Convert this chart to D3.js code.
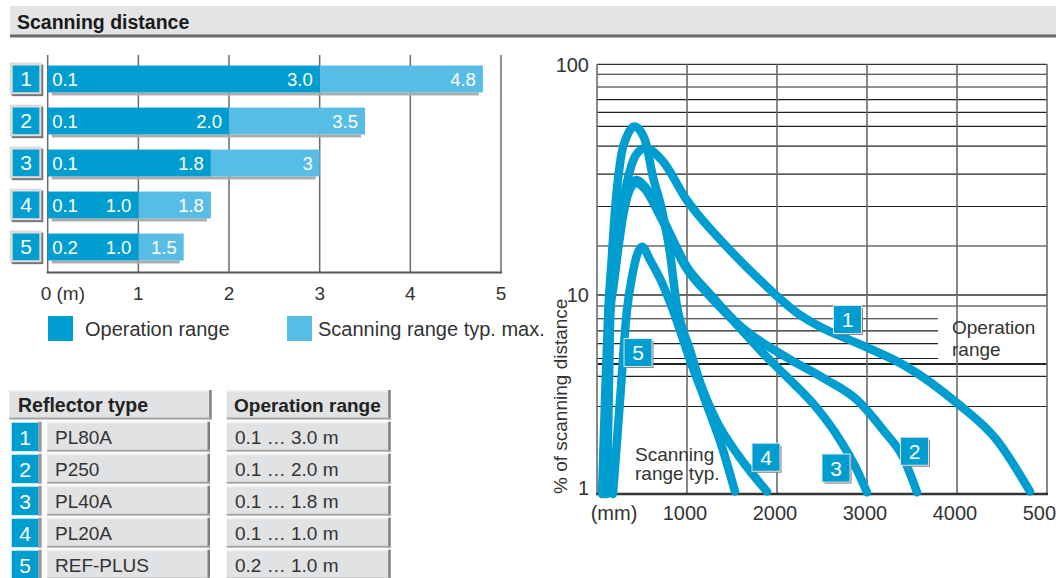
<!DOCTYPE html>
<html>
<head>
<meta charset="utf-8">
<script src="https://cdn.jsdelivr.net/npm/d3@7"></script>
<style>
  body { margin: 0; background: #fff; }
  text { font-family: "Liberation Sans", Arial, sans-serif; }
</style>
</head>
<body>
<div id="chart"></div>
<script>
// ---- bar chart data (m)
let ids = [1, 2, 3, 4, 5]
let opStart = [0.1, 0.1, 0.1, 0.1, 0.2]
let opEnd = [3.0, 2.0, 1.8, 1.0, 1.0]
let scanMax = [4.8, 3.5, 3, 1.8, 1.5]
let opStartLabels = ["0.1", "0.1", "0.1", "0.1", "0.2"]
let opEndLabels = ["3.0", "2.0", "1.8", "1.0", "1.0"]
let scanLabels = ["4.8", "3.5", "3", "1.8", "1.5"]
let barTicks = [0, 1, 2, 3, 4, 5]
let barTickLabels = ["0 (m)", "1", "2", "3", "4", "5"]

// ---- table
let reflectors = ["PL80A", "P250", "PL40A", "PL20A", "REF-PLUS"]
let opRanges = ["0.1 … 3.0 m", "0.1 … 2.0 m", "0.1 … 1.8 m", "0.1 … 1.0 m", "0.2 … 1.0 m"]

// ---- curves: distance (mm) / % of scanning distance
let c1Dist = [78, 111, 144, 181, 237, 292, 348, 422, 533, 719, 997, 1441, 1811, 2256, 2478, 2886, 3441, 3997, 4441, 4811]
let c1Pct  = [1, 2.97, 8.4, 12, 17.9, 25.8, 32.6, 39.8, 43.4, 38.5, 25.8, 16.2, 11.6, 7.94, 6.93, 5.74, 4.36, 2.87, 1.87, 1.03]
let c2Dist = [100, 122, 144, 181, 237, 292, 348, 441, 533, 700, 997, 1256, 1556, 1811, 2144, 2511, 2889, 3178, 3400, 3556]
let c2Pct  = [1, 2.97, 8.4, 11.3, 16.8, 23.3, 28.5, 31.5, 29.5, 22.6, 13.3, 10.1, 7.23, 5.87, 4.75, 3.83, 2.97, 2.1, 1.53, 1.02]
let c3Dist = [110, 130, 150, 185, 240, 295, 350, 433, 533, 700, 990, 1240, 1540, 1811, 2089, 2444, 2700, 2878, 3000]
let c3Pct  = [1, 2.97, 8.4, 11, 16.3, 22.6, 27.7, 30.6, 28.8, 22, 13.1, 10, 7.2, 5.29, 3.96, 2.7, 1.87, 1.35, 1.02]
let c4Dist = [56, 89, 126, 163, 200, 237, 274, 330, 414, 533, 622, 722, 811, 878, 1033, 1156, 1322, 1567, 1889]
let c4Pct  = [1, 2.97, 8.4, 14.2, 23.3, 32.6, 41.3, 48.6, 53.7, 47, 32.5, 23.3, 15.2, 9.4, 5.3, 3.53, 2.36, 1.57, 1.03]
let c5Dist = [178, 256, 333, 389, 500, 589, 722, 844, 1033, 1200, 1389, 1533]
let c5Pct  = [1, 2.97, 8.4, 12, 16.2, 14.2, 11.3, 8.4, 4.71, 2.97, 1.72, 1.03]

// curve number labels (mm, %)
let labelDist = [2783, 3528, 2656, 1878, 456]
let labelPct = [7.53, 1.64, 1.35, 1.53, 5.14]

let xTicks = [0, 1000, 2000, 3000, 4000, 5000]
let xTickLabels = ["(mm)", "1000", "2000", "3000", "4000", "5000"]
let yTicks = [1, 10, 100]
let yGrid = [90.5, 79.7, 70.3, 61.9, 53.8, 44.2, 33.4, 24.2, 16.3, 8.8, 4.5, 3.9, 2.75]
let yGridShort = [7.6, 6.6, 5.7, 4.8]

let width = 1056, height = 578
let blue = '#009dd0', lightBlue = '#58bde5'

let svg = d3.select('#chart')
  .append('svg')
    .attr('width', width)
    .attr('height', height)

// header band
svg.append('rect').attr('x', 10).attr('y', 6).attr('width', width - 10).attr('height', 29).attr('fill', '#e3e4e6')
svg.append('rect').attr('x', 10).attr('y', 34.5).attr('width', width - 10).attr('height', 3).attr('fill', '#6a6a6a')
svg.append('text')
  .attr('x', 17).attr('y', 29)
  .attr('font-size', 19.5).attr('font-weight', 'bold').attr('fill', '#1a1a1a')
  .text('Scanning distance')

// little number button: shadow, frame, blue square, digit
function numBox(g, x0, y0, size, n, frame) {
  if (frame) {
    g.append('rect').attr('x', x0 - 1).attr('y', y0 - 1).attr('width', size + 5).attr('height', size + 5).attr('fill', '#777')
    g.append('rect').attr('x', x0 - 3).attr('y', y0 - 3).attr('width', size + 5).attr('height', size + 5).attr('fill', '#dcdcdc')
  } else {
    g.append('rect').attr('x', x0 + 2).attr('y', y0 + 2).attr('width', size).attr('height', size).attr('fill', '#808080')
    g.append('rect').attr('x', x0 - 1).attr('y', y0 - 1).attr('width', size + 2).attr('height', size + 2).attr('fill', '#e4e4e4')
  }
  g.append('rect').attr('x', x0).attr('y', y0).attr('width', size).attr('height', size).attr('fill', blue)
  g.append('text')
    .attr('x', x0 + size / 2).attr('y', y0 + size / 2)
    .attr('dy', '0.36em').attr('text-anchor', 'middle')
    .attr('font-size', 21).attr('fill', '#fff')
    .text(n)
}

// ---------------- bar chart
let x = d3.scaleLinear().domain([0, 5]).range([47.7, 501])
let yb = d3.scaleBand().domain(ids).range([58, 268]).paddingInner(0.36).paddingOuter(0.18)

let bars = svg.append('g')

bars.selectAll('.vgrid')
  .data(barTicks)
  .enter()
  .append('line')
    .attr('x1', d => x(d)).attr('x2', d => x(d))
    .attr('y1', 55).attr('y2', 272)
    .attr('stroke', '#6a6a6a').attr('stroke-width', 1.5)
bars.append('line')
  .attr('x1', x(0) - 1).attr('x2', x(5) + 1).attr('y1', 272.5).attr('y2', 272.5)
  .attr('stroke', '#555').attr('stroke-width', 2)

bars.selectAll('.tick')
  .data(barTicks)
  .enter()
  .append('text')
    .attr('x', d => x(d))
    .attr('dx', (d, i) => i ? 0 : -7)
    .attr('y', 300)
    .attr('text-anchor', (d, i) => i ? 'middle' : 'start')
    .attr('font-size', 19).attr('fill', '#333')
    .text((d, i) => barTickLabels[i])

// shadow under each bar
bars.selectAll('.shadow')
  .data(ids)
  .enter()
  .append('rect')
    .attr('x', x(0) + 4)
    .attr('y', d => yb(d) + yb.bandwidth())
    .attr('width', (d, i) => x(scanMax[i]) - x(0) - 8)
    .attr('height', 3)
    .attr('fill', '#ababab')

bars.selectAll('.scan')
  .data(ids)
  .enter()
  .append('rect')
    .attr('x', (d, i) => x(opEnd[i]))
    .attr('y', d => yb(d))
    .attr('width', (d, i) => x(scanMax[i]) - x(opEnd[i]))
    .attr('height', yb.bandwidth())
    .attr('fill', lightBlue)

bars.selectAll('.op')
  .data(ids)
  .enter()
  .append('rect')
    .attr('x', x(0))
    .attr('y', d => yb(d))
    .attr('width', (d, i) => x(opEnd[i]) - x(0))
    .attr('height', yb.bandwidth())
    .attr('fill', blue)

let mid = d => yb(d) + yb.bandwidth() / 2
bars.selectAll('.lStart')
  .data(ids).enter().append('text')
    .attr('x', x(0) + 4.5).attr('y', mid).attr('dy', '0.36em')
    .attr('font-size', 18.5).attr('fill', '#fff')
    .text((d, i) => opStartLabels[i])
bars.selectAll('.lEnd')
  .data(ids).enter().append('text')
    .attr('x', (d, i) => x(opEnd[i]) - 7).attr('y', mid).attr('dy', '0.36em')
    .attr('text-anchor', 'end')
    .attr('font-size', 18.5).attr('fill', '#fff')
    .text((d, i) => opEndLabels[i])
bars.selectAll('.lScan')
  .data(ids).enter().append('text')
    .attr('x', (d, i) => x(scanMax[i]) - 7).attr('y', mid).attr('dy', '0.36em')
    .attr('text-anchor', 'end')
    .attr('font-size', 18.5).attr('fill', '#fff')
    .text((d, i) => scanLabels[i])

ids.forEach(d => numBox(bars, 12.7, yb(d), 26.6, d, true))

// legend
let legend = svg.append('g')
legend.append('rect').attr('x', 48).attr('y', 316).attr('width', 25).attr('height', 25).attr('fill', blue)
legend.append('text').attr('x', 85).attr('y', 335.5).attr('font-size', 20).attr('fill', '#333').text('Operation range')
legend.append('rect').attr('x', 287).attr('y', 316).attr('width', 25).attr('height', 25).attr('fill', lightBlue)
legend.append('text').attr('x', 318).attr('y', 335.5).attr('font-size', 20).attr('fill', '#333').text('Scanning range typ. max.')

// ---------------- table
let table = svg.append('g')
function cell(x0, y0, w, h) {
  table.append('rect').attr('x', x0).attr('y', y0).attr('width', w).attr('height', h).attr('fill', '#e1e2e4')
  table.append('rect').attr('x', x0).attr('y', y0).attr('width', w).attr('height', 1.5).attr('fill', '#f4f4f4')
  table.append('rect').attr('x', x0 + w - 2.5).attr('y', y0).attr('width', 2.5).attr('height', h).attr('fill', '#808080')
  table.append('rect').attr('x', x0).attr('y', y0 + h - 2).attr('width', w).attr('height', 2).attr('fill', '#a5a5a5')
}
cell(9.3, 390, 202.4, 29.5)
cell(226.7, 390, 164, 29.5)
table.append('text').attr('x', 18).attr('y', 412).attr('font-size', 19.5).attr('font-weight', 'bold').attr('fill', '#222').text('Reflector type')
table.append('text').attr('x', 234).attr('y', 412).attr('font-size', 19).attr('font-weight', 'bold').attr('fill', '#222').text('Operation range')

let rowY = d3.scaleBand().domain(ids).range([421.7, 581.7])
ids.forEach((d, i) => {
  let y0 = rowY(d)
  cell(47.3, y0, 162.7, 30)
  cell(226.7, y0, 164, 30)
  table.append('rect').attr('x', 38.3).attr('y', y0).attr('width', 3.4).attr('height', 30).attr('fill', '#9a9a9a')
  table.append('rect').attr('x', 11.7).attr('y', y0 + 1).attr('width', 26.6).attr('height', 28.5).attr('fill', blue)
  table.append('text').attr('x', 25).attr('y', y0 + 15.5).attr('dy', '0.36em').attr('text-anchor', 'middle')
    .attr('font-size', 21).attr('fill', '#fff').text(d)
  table.append('text').attr('x', 55).attr('y', y0 + 22).attr('font-size', 19).attr('fill', '#333').text(reflectors[i])
  table.append('text').attr('x', 235).attr('y', y0 + 22).attr('font-size', 19).attr('fill', '#333').text(opRanges[i])
})

// ---------------- curve chart
let xc = d3.scaleLinear().domain([0, 5000]).range([597, 1047])
let yc = d3.scaleLog().domain([1, 10, 100]).range([494, 295, 64.3])

let cg = svg.append('g')

cg.selectAll('.hgrid')
  .data(yGrid)
  .enter()
  .append('line')
    .attr('x1', xc(0)).attr('x2', xc(5000))
    .attr('y1', d => yc(d)).attr('y2', d => yc(d))
    .attr('stroke', '#222').attr('stroke-width', d => d === 4.5 ? 1.8 : 1.1)
cg.selectAll('.hgridShort')
  .data(yGridShort)
  .enter()
  .append('line')
    .attr('x1', xc(0)).attr('x2', 938)
    .attr('y1', d => yc(d)).attr('y2', d => yc(d))
    .attr('stroke', '#222').attr('stroke-width', 1.1)
cg.selectAll('.hmajor')
  .data([10, 100])
  .enter()
  .append('line')
    .attr('x1', xc(0)).attr('x2', xc(5000))
    .attr('y1', d => yc(d)).attr('y2', d => yc(d))
    .attr('stroke', '#333').attr('stroke-width', 1.3)
cg.selectAll('.vgrid')
  .data(xTicks)
  .enter()
  .append('line')
    .attr('x1', d => xc(d)).attr('x2', d => xc(d))
    .attr('y1', yc(100)).attr('y2', yc(1))
    .attr('stroke', '#6a6a6a').attr('stroke-width', 1.6)
cg.append('line')
  .attr('x1', xc(0) - 1).attr('x2', xc(5000) + 1)
  .attr('y1', yc(1)).attr('y2', yc(1))
  .attr('stroke', '#333').attr('stroke-width', 2.5)

// curves
let curves = [[c1Dist, c1Pct], [c2Dist, c2Pct], [c3Dist, c3Pct], [c4Dist, c4Pct], [c5Dist, c5Pct]]
let line = d3.line()
  .x(d => xc(d[0]))
  .y(d => yc(d[1]))
  .curve(d3.curveMonotoneX)

cg.selectAll('.curve')
  .data(curves)
  .enter()
  .append('path')
    .attr('d', c => line(d3.zip(c[0], c[1])))
    .attr('fill', 'none')
    .attr('stroke', blue)
    .attr('stroke-width', 8.5)
    .attr('stroke-linecap', 'round')
    .attr('stroke-linejoin', 'round')

ids.forEach((d, i) => numBox(cg, xc(labelDist[i]) - 13.5, yc(labelPct[i]) - 13.5, 27, d, false))

// axis texts
cg.selectAll('.ytick')
  .data(yTicks)
  .enter()
  .append('text')
    .attr('x', 589)
    .attr('y', d => yc(d))
    .attr('dy', d => d === 1 ? '0.05em' : '0.36em')
    .attr('text-anchor', 'end')
    .attr('font-size', 20).attr('fill', '#333')
    .text(d => d)

cg.selectAll('.xtick')
  .data(xTicks)
  .enter()
  .append('text')
    .attr('x', d => xc(d))
    .attr('dx', (d, i) => i ? -2 : 17)
    .attr('y', 520)
    .attr('text-anchor', 'middle')
    .attr('font-size', 20).attr('fill', '#333')
    .text((d, i) => xTickLabels[i])

cg.append('text')
  .attr('transform', 'translate(567,494) rotate(-90)')
  .attr('font-size', 19).attr('fill', '#333')
  .text('% of scanning distance')

cg.append('text').attr('x', 952).attr('y', 334).attr('font-size', 19).attr('fill', '#333').text('Operation')
cg.append('text').attr('x', 952).attr('y', 356).attr('font-size', 19).attr('fill', '#333').text('range')
cg.append('text').attr('x', 635).attr('y', 461).attr('font-size', 19).attr('fill', '#333').text('Scanning')
cg.append('text').attr('x', 635).attr('y', 480).attr('font-size', 19).attr('fill', '#333').text('range typ.')
</script>
</body>
</html>
